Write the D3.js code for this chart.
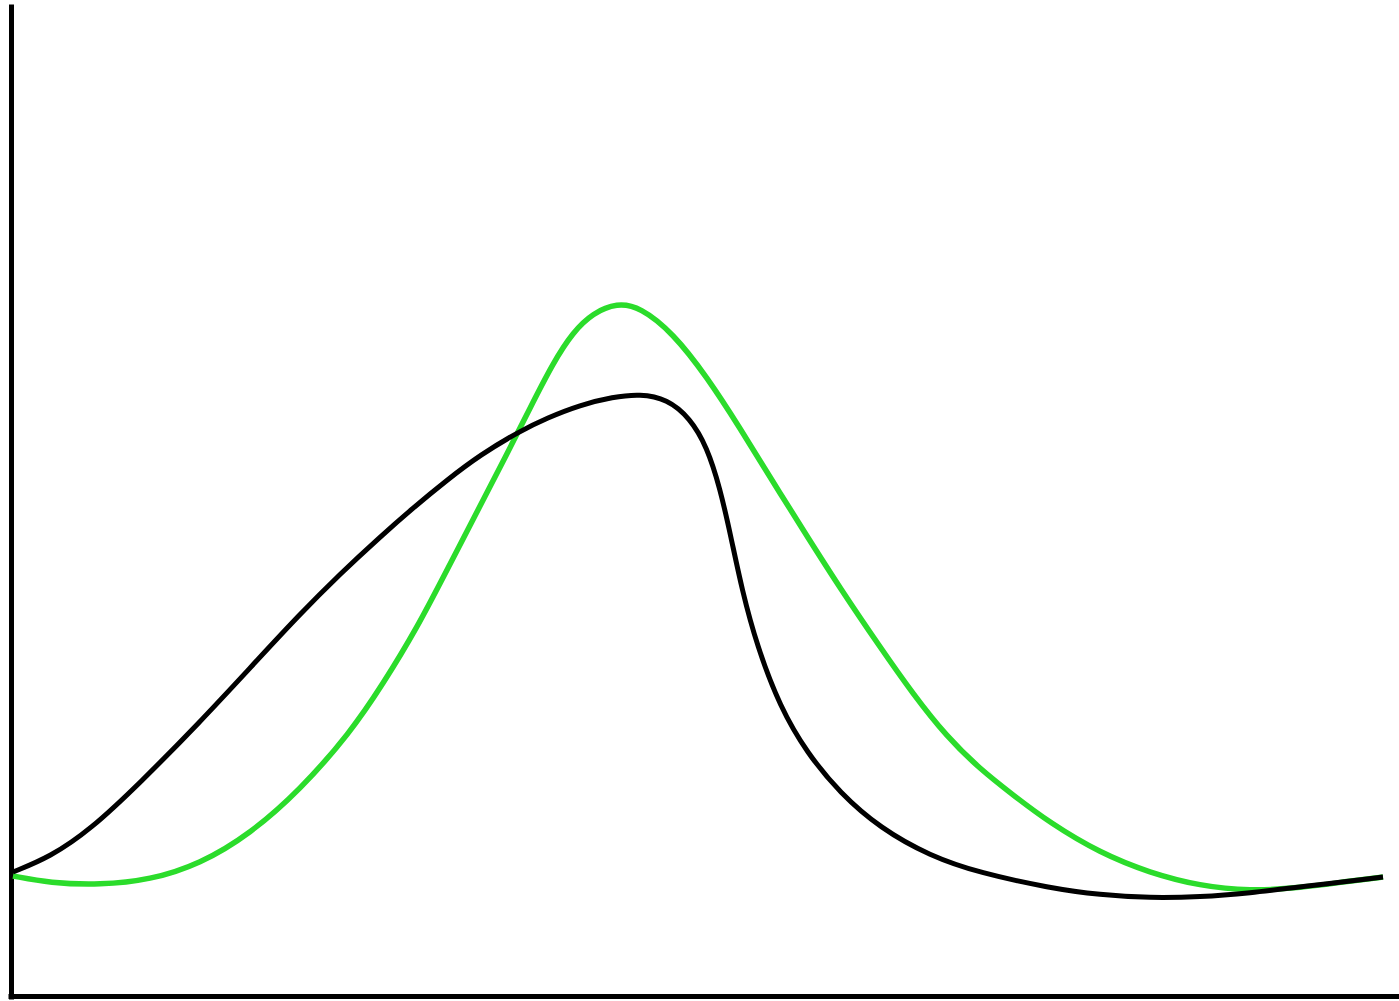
<!DOCTYPE html>
<html>
<head>
<meta charset="utf-8">
<script src="https://cdn.jsdelivr.net/npm/d3@7"></script>
<style>
  html, body { margin: 0; padding: 0; background: #fff; }
  svg { display: block; }
</style>
</head>
<body>
<script>
// 数据：横坐标与两条曲线的值
let blackX = [0,37,77,127,187,237,287,327,367,400,434,467,507,534,567,600,627,654,677,694,707,718,729,744,767,794,827,867,917,967,1037,1087,1137,1187,1237,1287,1370];
let blackY = [124,139,166,213,274,328,382,422,459,488,516,541,565,578,591,599,602,597,578,549,508,459,406,350,289,243,203,168,140,123,108,101,98,99,103,109,119];

let greenX = [0,37,87,137,187,237,287,337,370,404,434,467,494,517,540,560,580,604,627,660,694,727,760,794,827,867,900,934,967,1000,1037,1087,1137,1187,1237,1287,1337,1370];
let greenY = [120,113,111,116,132,162,206,263,312,368,426,490,542,588,633,664,683,693,689,663,619,568,514,460,408,349,302,259,227,201,173,143,123,110,105,108,115,119];

let width = 1399, height = 1001;

// 画布
let svg = d3.select("body").append("svg")
    .attr("width", width)
    .attr("height", height);

// 比例尺
let x = d3.scaleLinear().domain([-5, 1386]).range([8, 1399]);
let y = d3.scaleLinear().domain([-3, 992]).range([999, 4]);

// 坐标轴（无刻度）
svg.append("g")
    .attr("transform", `translate(${x(-2)},0)`)
    .call(d3.axisLeft(y).tickValues([]).tickSizeOuter(0))
    .select(".domain")
    .attr("stroke", "#000")
    .attr("stroke-width", 5);

svg.append("g")
    .attr("transform", `translate(0,${y(0)})`)
    .call(d3.axisBottom(x).tickValues([]).tickSizeOuter(0))
    .select(".domain")
    .attr("stroke", "#000")
    .attr("stroke-width", 5);

// 曲线
let line = d3.line()
    .x(d => x(d[0]))
    .y(d => y(d[1]))
    .curve(d3.curveBasis);

svg.append("path")
    .datum(d3.zip(greenX, greenY))
    .attr("d", line)
    .attr("fill", "none")
    .attr("stroke", "#2bdc2b")
    .attr("stroke-width", 5.5);

svg.append("path")
    .datum(d3.zip(blackX, blackY))
    .attr("d", line)
    .attr("fill", "none")
    .attr("stroke", "#000")
    .attr("stroke-width", 5);
</script>
</body>
</html>
